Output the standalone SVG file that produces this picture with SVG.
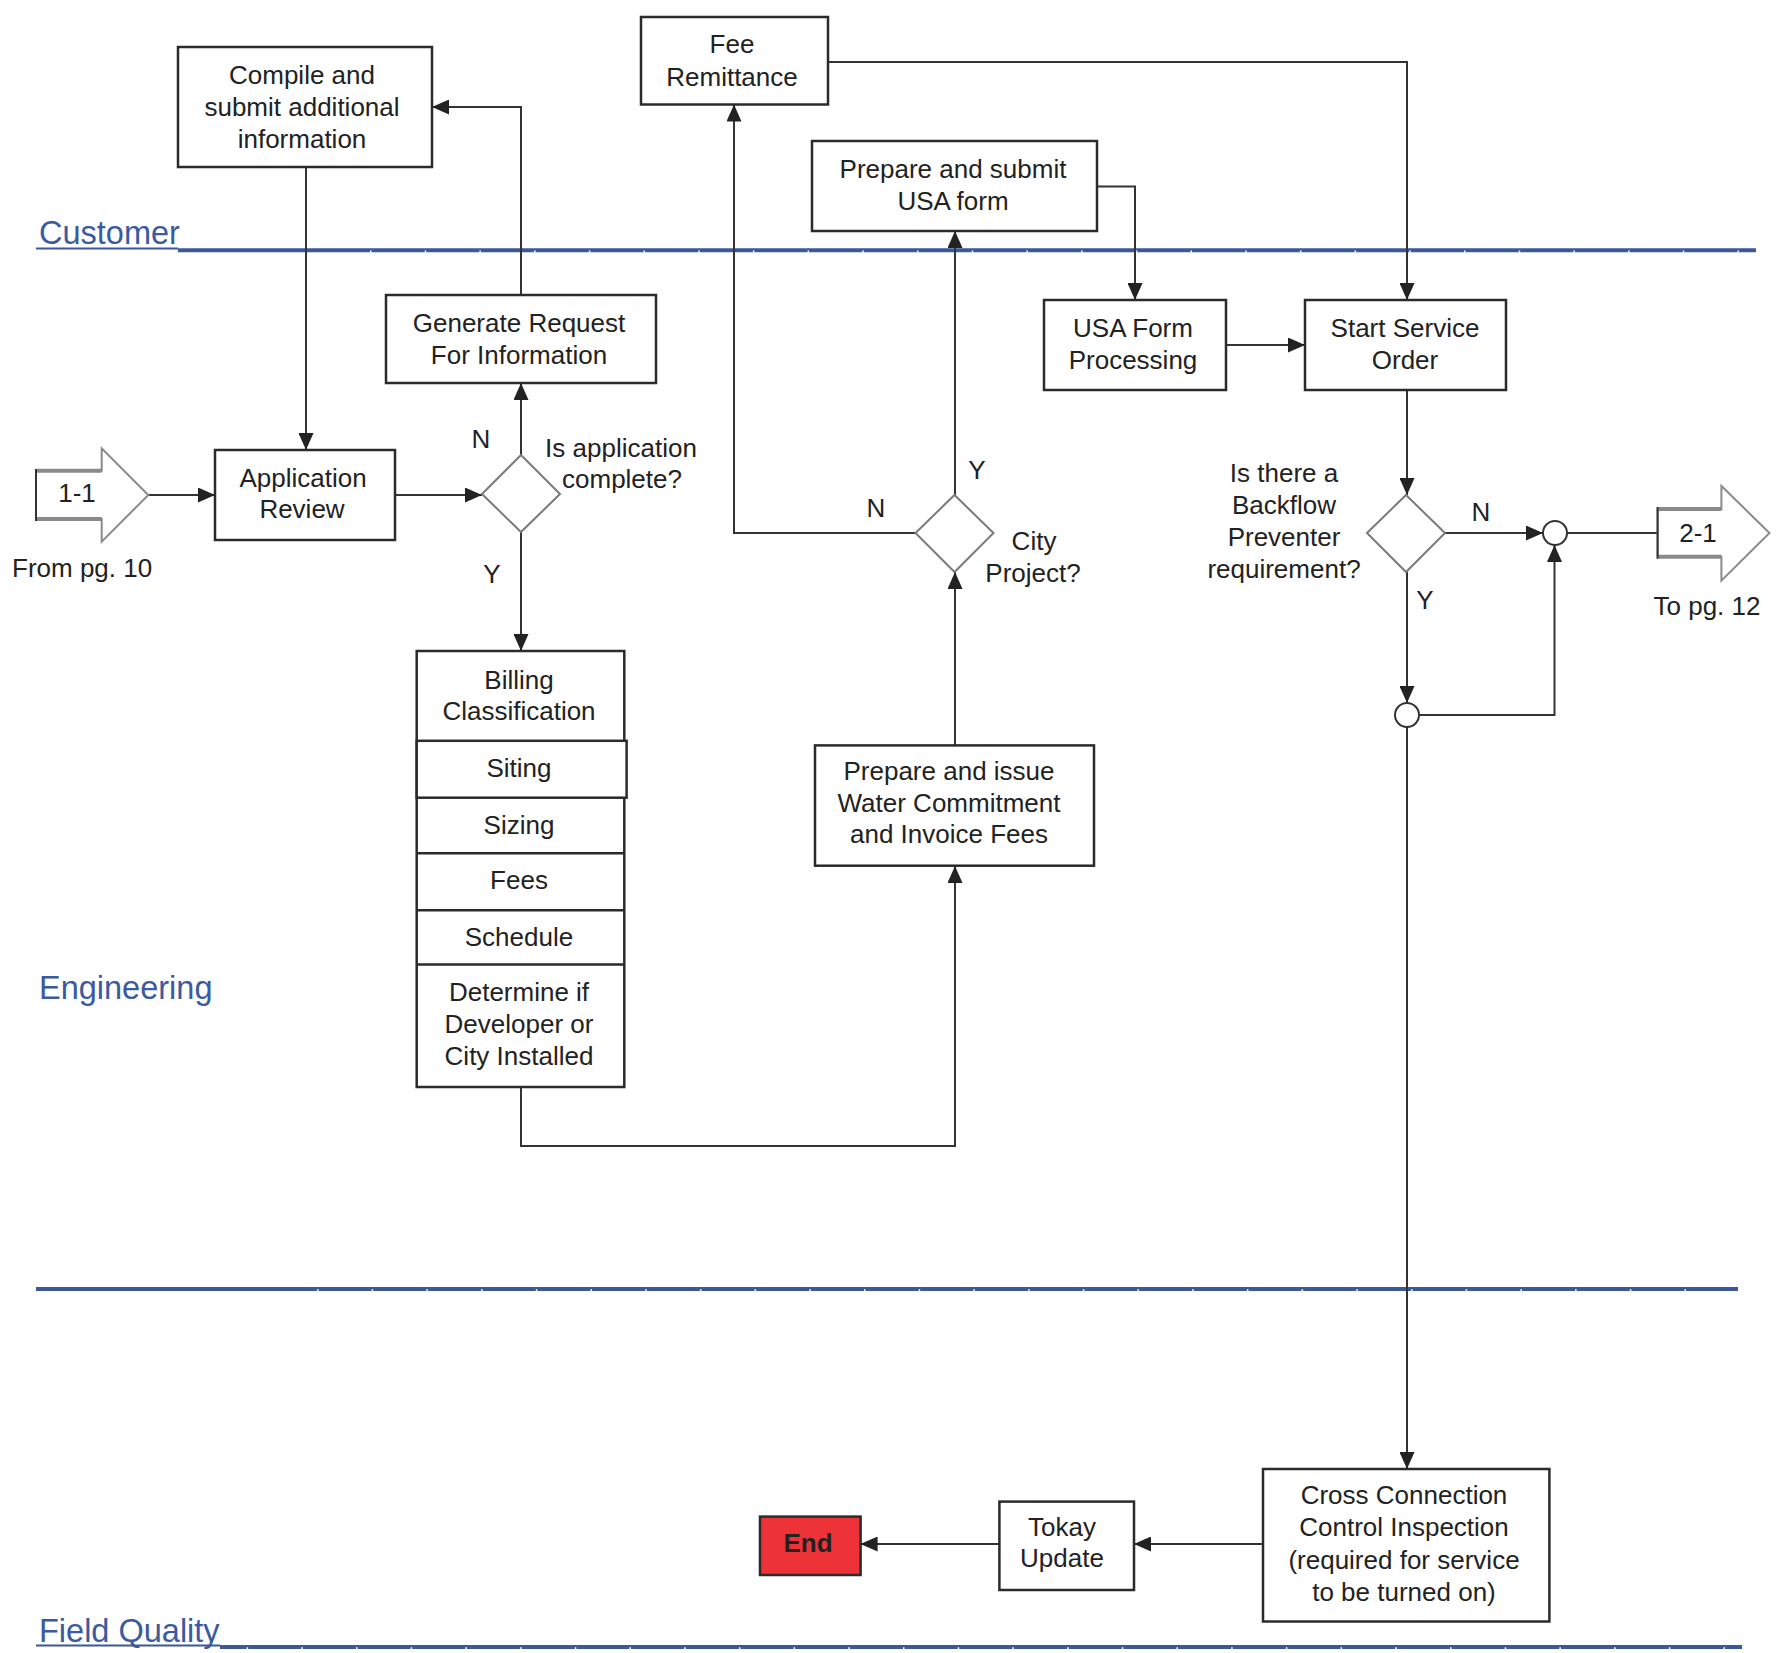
<svg xmlns="http://www.w3.org/2000/svg" width="1779" height="1653" viewBox="0 0 1779 1653">
<defs>
<style>
.box{fill:#fff;stroke:#2b2b2b;stroke-width:2.5}
.dia{fill:#fff;stroke:#7a7a7a;stroke-width:2}
.t{font-family:"Liberation Sans",Arial,sans-serif;font-size:26px;fill:#222;text-anchor:middle}
.tl{font-family:"Liberation Sans",Arial,sans-serif;font-size:26px;fill:#222}
.lane{font-family:"Liberation Sans",Arial,sans-serif;font-size:32.5px;fill:#3b5aa0}
.ln{stroke:#3b5998;stroke-width:4;fill:none}
.ul{stroke:#3b5998;stroke-width:2;fill:none}
.tick{stroke:#fff;stroke-width:2;fill:none;stroke-dasharray:1.5 53.2}
.c{fill:none;stroke:#333;stroke-width:2}
.cm{fill:none;stroke:#333;stroke-width:2;marker-end:url(#ah)}
.circ{fill:#fff;stroke:#333;stroke-width:2}
.blk{fill:#fff;stroke:#8a8a8a;stroke-width:2}
</style>
<marker id="ah" markerUnits="userSpaceOnUse" markerWidth="17" markerHeight="15" refX="17" refY="7.5" orient="auto">
<path d="M0,0 L17,7.5 L0,15 z" fill="#222"/>
</marker>
</defs>
<rect width="1779" height="1653" fill="#fff"/>

<g id="lanes">
<text class="lane" x="39" y="244">Customer</text>
<line class="ul" x1="36" y1="248.5" x2="178" y2="248.5"/>
<line class="ln" x1="178" y1="250.3" x2="1756" y2="250.3"/>
<line class="tick" x1="370" y1="251.5" x2="1756" y2="251.5"/>
<text class="lane" x="39" y="999">Engineering</text>
<line class="ln" x1="36" y1="1289" x2="1738" y2="1289"/>
<line class="tick" x1="317" y1="1290.3" x2="1738" y2="1290.3"/>
<text class="lane" x="39" y="1642">Field Quality</text>
<line class="ul" x1="36" y1="1645.5" x2="220" y2="1645.5"/>
<line class="ln" x1="220" y1="1647" x2="1742" y2="1647"/>
<line class="tick" x1="246.6" y1="1648.3" x2="1742" y2="1648.3"/>
</g>

<g id="connectors">
<line class="cm" x1="148.3" y1="495" x2="215" y2="495"/>
<line class="cm" x1="395" y1="495" x2="482" y2="495"/>
<line class="cm" x1="521" y1="455" x2="521" y2="383"/>
<polyline class="cm" points="521,295 521,107 432,107"/>
<line class="cm" x1="306" y1="167" x2="306" y2="450"/>
<line class="cm" x1="521" y1="532" x2="521" y2="651"/>
<polyline class="cm" points="521,1087 521,1146 955,1146 955,866"/>
<line class="cm" x1="955" y1="745" x2="955" y2="572"/>
<line class="cm" x1="955" y1="495" x2="955" y2="231"/>
<polyline class="cm" points="915.5,533 734,533 734,104.5"/>
<polyline class="cm" points="1097,186.5 1135,186.5 1135,300"/>
<polyline class="cm" points="828,62 1407,62 1407,300"/>
<line class="cm" x1="1226" y1="345" x2="1305" y2="345"/>
<line class="cm" x1="1407" y1="390" x2="1407" y2="495"/>
<line class="cm" x1="1445" y1="533" x2="1543" y2="533"/>
<line class="c" x1="1567" y1="533" x2="1658" y2="533"/>
<line class="cm" x1="1407" y1="572" x2="1407" y2="703"/>
<polyline class="cm" points="1419,715 1554.5,715 1554.5,545"/>
<line class="cm" x1="1407" y1="727" x2="1407" y2="1469"/>
<line class="cm" x1="1263" y1="1544" x2="1134" y2="1544"/>
<line class="cm" x1="999.4" y1="1544" x2="860.6" y2="1544"/>
</g>

<g id="labels">
<text class="t" x="481" y="448">N</text>
<text class="t" x="492" y="583">Y</text>
<text class="t" x="876" y="517">N</text>
<text class="t" x="977" y="479">Y</text>
<text class="t" x="1481" y="521">N</text>
<text class="t" x="1425" y="609">Y</text>
</g>

<g id="offpage-in">
<polygon class="blk" points="36,470.7 101.7,470.7 101.7,448.3 148.3,495 101.7,541.7 101.7,519 36,519"/>
<line x1="36" y1="470.7" x2="101.7" y2="470.7" stroke="#8a8a8a" stroke-width="4"/>
<line x1="36" y1="519" x2="101.7" y2="519" stroke="#8a8a8a" stroke-width="4"/>
<line x1="36" y1="469" x2="36" y2="521" stroke="#333" stroke-width="2"/>
<text class="t" x="77" y="502">1-1</text>
<text class="tl" x="12" y="577">From pg. 10</text>
</g>

<g id="offpage-out">
<polygon class="blk" points="1657.6,509 1721.4,509 1721.4,486 1769.5,533 1721.4,580.7 1721.4,556.7 1657.6,556.7"/>
<line x1="1657.6" y1="509" x2="1721.4" y2="509" stroke="#8a8a8a" stroke-width="4"/>
<line x1="1657.6" y1="556.7" x2="1721.4" y2="556.7" stroke="#8a8a8a" stroke-width="4"/>
<line x1="1657.6" y1="507" x2="1657.6" y2="558.7" stroke="#333" stroke-width="2"/>
<text class="t" x="1698" y="542">2-1</text>
<text class="t" x="1707" y="615">To pg. 12</text>
</g>

<g id="compile">
<rect class="box" x="178" y="47" width="254" height="120"/>
<text class="t" x="302" y="84">Compile  and</text>
<text class="t" x="302" y="116">submit additional</text>
<text class="t" x="302" y="148">information</text>
</g>

<g id="fee-remittance">
<rect class="box" x="641" y="17" width="187" height="87.5"/>
<text class="t" x="732" y="53">Fee</text>
<text class="t" x="732" y="85.5">Remittance</text>
</g>

<g id="generate-request">
<rect class="box" x="386" y="295" width="270" height="88"/>
<text class="t" x="519" y="332">Generate Request</text>
<text class="t" x="519" y="364">For Information</text>
</g>

<g id="application-review">
<rect class="box" x="215" y="450" width="180" height="90"/>
<text class="t" x="303" y="487">Application</text>
<text class="t" x="302" y="518">Review</text>
</g>

<g id="decision-complete">
<polygon class="dia" points="521,455 560,494 521,532 482,494"/>
<text class="t" x="621" y="457">Is application</text>
<text class="t" x="622" y="488">complete?</text>
</g>

<g id="prepare-usa">
<rect class="box" x="812" y="141" width="285" height="90"/>
<text class="t" x="953" y="178">Prepare and submit</text>
<text class="t" x="953" y="210">USA form</text>
</g>

<g id="usa-processing">
<rect class="box" x="1044" y="300" width="182" height="90"/>
<text class="t" x="1133" y="336.5">USA Form</text>
<text class="t" x="1133" y="369">Processing</text>
</g>

<g id="start-service">
<rect class="box" x="1305" y="300" width="201" height="90"/>
<text class="t" x="1405" y="336.5">Start Service</text>
<text class="t" x="1405" y="369">Order</text>
</g>

<g id="decision-city">
<polygon class="dia" points="954.5,495 993.5,533 954.5,572 915.5,533"/>
<text class="t" x="1034" y="550">City</text>
<text class="t" x="1033" y="582">Project?</text>
</g>

<g id="decision-backflow">
<polygon class="dia" points="1406,495 1445,533 1406,572 1367,533"/>
<text class="t" x="1284" y="481.5">Is there a</text>
<text class="t" x="1284" y="514">Backflow</text>
<text class="t" x="1284" y="546">Preventer</text>
<text class="t" x="1284" y="578">requirement?</text>
</g>

<g id="junction-1"><circle class="circ" cx="1555" cy="533" r="12"/></g>
<g id="junction-2"><circle class="circ" cx="1407" cy="715" r="12"/></g>

<g id="engineering-stack">
<rect class="box" x="416.7" y="651" width="207.6" height="436"/>
<rect class="box" x="416.7" y="740.8" width="209.9" height="56.9"/>
<line class="box" x1="416.7" y1="853.3" x2="624.3" y2="853.3"/>
<line class="box" x1="416.7" y1="910.2" x2="624.3" y2="910.2"/>
<line class="box" x1="416.7" y1="964.4" x2="624.3" y2="964.4"/>
<text class="t" x="519" y="688.7">Billing</text>
<text class="t" x="519" y="719.5">Classification</text>
<text class="t" x="519" y="777">Siting</text>
<text class="t" x="519" y="834">Sizing</text>
<text class="t" x="519" y="888.5">Fees</text>
<text class="t" x="519" y="946">Schedule</text>
<text class="t" x="519" y="1001">Determine if</text>
<text class="t" x="519" y="1033">Developer or</text>
<text class="t" x="519" y="1065">City Installed</text>
</g>

<g id="water-commitment">
<rect class="box" x="815" y="745.4" width="279" height="120.3"/>
<text class="t" x="949" y="779.6">Prepare and issue</text>
<text class="t" x="949" y="811.8">Water Commitment</text>
<text class="t" x="949" y="843.4">and Invoice Fees</text>
</g>

<g id="cross-connection">
<rect class="box" x="1263" y="1469" width="286.4" height="152.5"/>
<text class="t" x="1404" y="1504">Cross Connection</text>
<text class="t" x="1404" y="1536">Control Inspection</text>
<text class="t" x="1404" y="1569">(required for service</text>
<text class="t" x="1404" y="1600.5">to be turned on)</text>
</g>

<g id="tokay-update">
<rect class="box" x="999.4" y="1501.6" width="134.6" height="88.4"/>
<text class="t" x="1062" y="1535.6">Tokay</text>
<text class="t" x="1062" y="1567">Update</text>
</g>

<g id="end">
<rect x="760" y="1516.6" width="100.6" height="58.4" fill="#ee3338" stroke="#2b2b2b" stroke-width="2.5"/>
<text class="t" x="808" y="1552" font-weight="bold">End</text>
</g>
</svg>
